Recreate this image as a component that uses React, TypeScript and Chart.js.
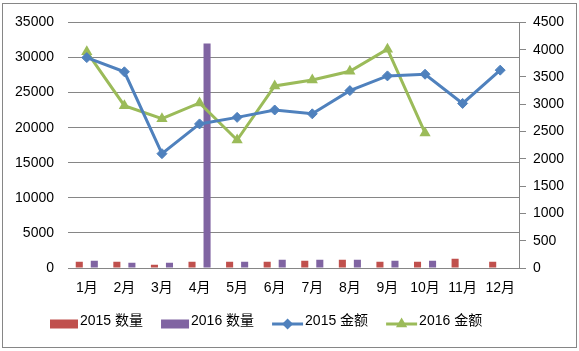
import React, { useEffect, useRef } from 'react';
import { Chart, registerables } from 'chart.js';

Chart.register(...registerables);

const categories = ['1月', '2月', '3月', '4月', '5月', '6月', '7月', '8月', '9月', '10月', '11月', '12月'];
const qty2015 = [900, 900, 470, 900, 900, 900, 1040, 1180, 900, 900, 1320, 900];
const qty2016 = [1030, 750, 750, 32000, 900, 1180, 1180, 1180, 1040, 1040, null, null];
const amt2015 = [3855, 3595, 2095, 2640, 2760, 2895, 2825, 3250, 3520, 3550, 3015, 3625];
const amt2016 = [3960, 2975, 2735, 3025, 2345, 3335, 3445, 3605, 4010, 2475, null, null];
const seriesLabels = ['2015 数量', '2016 数量', '2015 金额', '2016 金额'];

const RED = '#C0504D';
const PURPLE = '#8064A2';
const BLUE = '#4F81BD';
const GREEN = '#9BBB59';
const GRID = '#868686';
const FONT_FAMILY = '"Liberation Sans", "Noto Sans CJK SC", sans-serif';

function drawMarker(ctx: CanvasRenderingContext2D, style: string, x: number, y: number, r: number) {
  ctx.beginPath();
  if (style === 'rectRot') {
    ctx.moveTo(x, y - r);
    ctx.lineTo(x + r, y);
    ctx.lineTo(x, y + r);
    ctx.lineTo(x - r, y);
  } else {
    const h = r * 0.866;
    ctx.moveTo(x, y - r);
    ctx.lineTo(x + h, y + r / 2);
    ctx.lineTo(x - h, y + r / 2);
  }
  ctx.closePath();
  ctx.fill();
}

const frameAndLegend = {
  id: 'frameAndLegend',
  afterDraw(chart: any) {
    const ctx: CanvasRenderingContext2D = chart.ctx;
    ctx.save();
    ctx.strokeStyle = GRID;
    ctx.lineWidth = 1;
    ctx.strokeRect(2.5, 3.5, 574, 344);

    ctx.font = '14px ' + FONT_FAMILY;
    ctx.textBaseline = 'alphabetic';
    ctx.textAlign = 'left';
    const yMid = 324;
    let x = 50;
    chart.data.datasets.forEach((ds: any) => {
      const isBar = ds.type === 'bar';
      const symW = isBar ? 28 : 31;
      if (isBar) {
        ctx.fillStyle = ds.backgroundColor;
        ctx.fillRect(x, yMid - 4.5, symW, 9);
      } else {
        ctx.strokeStyle = ds.borderColor;
        ctx.lineWidth = 3;
        ctx.beginPath();
        ctx.moveTo(x, yMid);
        ctx.lineTo(x + symW, yMid);
        ctx.stroke();
        ctx.fillStyle = ds.borderColor;
        drawMarker(ctx, ds.pointStyle, x + symW / 2, yMid, ds.pointStyle === 'triangle' ? 6.5 : 5.5);
      }
      ctx.fillStyle = '#000';
      const tx = x + symW + 2;
      ctx.fillText(ds.label, tx, 325);
      const tw = ctx.measureText(ds.label).width;
      x = tx + tw + 18;
    });
    ctx.restore();
  },
};

export default function App() {
  const ref = useRef<HTMLCanvasElement>(null);
  useEffect(() => {
    if (!ref.current) return;
    const font = { family: FONT_FAMILY, size: 14 };
    const plain = (v: any) => String(v);
    const chart = new Chart(ref.current, {
      type: 'bar',
      data: {
        labels: categories,
        datasets: [
          {
            type: 'bar', label: seriesLabels[0], data: qty2015, backgroundColor: RED,
            yAxisID: 'y', order: 2, barPercentage: 0.47, categoryPercentage: 0.8,
          },
          {
            type: 'bar', label: seriesLabels[1], data: qty2016, backgroundColor: PURPLE,
            yAxisID: 'y', order: 2, barPercentage: 0.47, categoryPercentage: 0.8,
          },
          {
            type: 'line', label: seriesLabels[2], data: amt2015, borderColor: BLUE, backgroundColor: BLUE,
            borderWidth: 3, pointStyle: 'rectRot', pointRadius: 5, pointBorderWidth: 1,
            pointBackgroundColor: BLUE, pointBorderColor: BLUE, yAxisID: 'y1', order: 1, tension: 0,
          },
          {
            type: 'line', label: seriesLabels[3], data: amt2016, borderColor: GREEN, backgroundColor: GREEN,
            borderWidth: 3, pointStyle: 'triangle', pointRadius: 6.5, pointBorderWidth: 0,
            pointBackgroundColor: GREEN, pointBorderColor: GREEN, yAxisID: 'y1', order: 1, tension: 0,
          },
        ] as any,
      },
      options: {
        responsive: false,
        animation: false,
        layout: { padding: { top: 21, left: 0, right: 0, bottom: 0 } },
        plugins: { legend: { display: false }, tooltip: { enabled: false } },
        scales: {
          x: {
            type: 'category',
            offset: true,
            grid: { display: false, drawTicks: false },
            border: { display: true, color: GRID, width: 1 },
            ticks: { font, color: '#000', padding: 12, maxRotation: 0, autoSkip: false },
            afterFit: (s: any) => { s.height = 83; },
          },
          y: {
            position: 'left',
            min: 0, max: 35000,
            ticks: { stepSize: 5000, font, color: '#000', padding: 14, callback: plain },
            grid: { color: GRID, drawTicks: false, lineWidth: 1 },
            border: { display: false },
            afterFit: (s: any) => { s.width = 68; },
          },
          y1: {
            position: 'right',
            min: 0, max: 4500,
            ticks: { stepSize: 500, font, color: '#000', padding: 7, callback: plain },
            grid: { drawOnChartArea: false, drawTicks: true, tickLength: 7, color: GRID },
            border: { display: true, color: GRID, width: 1 },
            afterFit: (s: any) => { s.width = 60; },
          },
        },
      } as any,
      plugins: [frameAndLegend],
    });
    return () => chart.destroy();
  }, []);
  return (
    <div style={{ position: 'absolute', left: 0, top: 0, width: 579, height: 351, background: '#fff' }}>
      <canvas ref={ref} width={579} height={351} style={{ display: 'block' }} />
    </div>
  );
}
